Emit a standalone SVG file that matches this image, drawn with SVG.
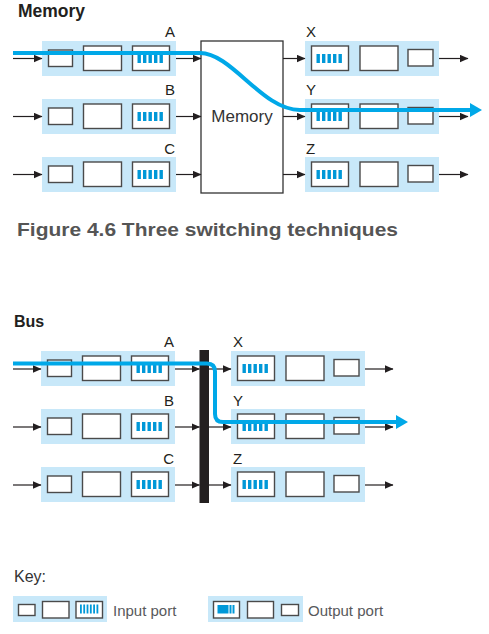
<svg xmlns="http://www.w3.org/2000/svg" xmlns:xlink="http://www.w3.org/1999/xlink" width="489" height="634" viewBox="0 0 489 634">
<style>
.bg{fill:#c8e8f9}
.box{fill:#fff;stroke:#4a4a4a;stroke-width:1.4}
.bar{fill:#0098d8}
.lbl{font-family:"Liberation Sans",Arial,sans-serif;font-size:15px;fill:#231f20}
.title{font-family:"Liberation Sans",Arial,sans-serif;font-weight:bold;fill:#231f20}
.wire{stroke:#231f20;stroke-width:1.2;fill:none;marker-end:url(#ah)}
.flow{stroke:#00a8e8;stroke-width:4;fill:none;stroke-linejoin:round}
.flowhead{fill:#00a8e8}
.keytxt{font-family:"Liberation Sans",Arial,sans-serif;font-size:15px;fill:#58595b}
</style>
<defs>
<marker id="ah" markerWidth="9" markerHeight="8" refX="8" refY="4" orient="auto" markerUnits="userSpaceOnUse">
<path d="M0,0.3 L8.5,4 L0,7.7 Z" fill="#231f20"/>
</marker>
<g id="qbars">
<rect class="bar" x="5" y="8" width="3.4" height="9"/>
<rect class="bar" x="10.5" y="8" width="3.4" height="9"/>
<rect class="bar" x="16" y="8" width="3.4" height="9"/>
<rect class="bar" x="21.5" y="8" width="3.4" height="9"/>
<rect class="bar" x="27" y="8" width="3.4" height="9"/>
</g>
<g id="inport">
<rect class="bg" x="0" y="0" width="134" height="35"/>
<rect class="box" x="6.5" y="9" width="24" height="16.5"/>
<rect class="box" x="41.5" y="5" width="38" height="24.5"/>
<rect class="box" x="90.5" y="5" width="37" height="24.5"/>
<use xlink:href="#qbars" href="#qbars" x="90.5" y="5"/>
</g>
<g id="outport">
<rect class="bg" x="0" y="0" width="134" height="35"/>
<rect class="box" x="6.5" y="5" width="37" height="24.5"/>
<use xlink:href="#qbars" href="#qbars" x="6.5" y="5"/>
<rect class="box" x="55" y="5" width="38" height="24.5"/>
<rect class="box" x="103" y="8.5" width="25" height="16.5"/>
</g>
</defs>
<rect width="489" height="634" fill="#fff"/>

<!-- Memory section -->
<text class="title" x="18" y="17" font-size="17.5">Memory</text>
<g id="mem-in-A"><use href="#inport" xlink:href="#inport" x="42" y="41"/><text class="lbl" x="175" y="37" text-anchor="end">A</text></g>
<g id="mem-in-B"><use href="#inport" xlink:href="#inport" x="42" y="99"/><text class="lbl" x="175" y="95" text-anchor="end">B</text></g>
<g id="mem-in-C"><use href="#inport" xlink:href="#inport" x="42" y="157"/><text class="lbl" x="175" y="154" text-anchor="end">C</text></g>
<g id="mem-box"><rect x="201" y="41" width="82" height="152" fill="#fff" stroke="#333" stroke-width="1.3"/><text x="242" y="122" text-anchor="middle" font-family="Liberation Sans, Arial, sans-serif" font-size="17" fill="#333">Memory</text></g>
<g id="mem-out-X"><use href="#outport" xlink:href="#outport" x="305" y="41"/><text class="lbl" x="306" y="37">X</text></g>
<g id="mem-out-Y"><use href="#outport" xlink:href="#outport" x="305" y="99"/><text class="lbl" x="306" y="95">Y</text></g>
<g id="mem-out-Z"><use href="#outport" xlink:href="#outport" x="305" y="157"/><text class="lbl" x="306" y="154">Z</text></g>

<!-- Bus section -->
<text class="title" x="14" y="327" font-size="16">Bus</text>
<g id="bus-in-A"><use href="#inport" xlink:href="#inport" x="41" y="351"/><text class="lbl" x="174" y="347" text-anchor="end">A</text></g>
<g id="bus-in-B"><use href="#inport" xlink:href="#inport" x="41" y="409"/><text class="lbl" x="174" y="406" text-anchor="end">B</text></g>
<g id="bus-in-C"><use href="#inport" xlink:href="#inport" x="41" y="467"/><text class="lbl" x="174" y="464" text-anchor="end">C</text></g>
<g id="bus-bar"><rect x="199.5" y="350" width="9.5" height="153" fill="#231f20"/></g>
<g id="bus-out-X"><use href="#outport" xlink:href="#outport" x="231" y="351"/><text class="lbl" x="233" y="347">X</text></g>
<g id="bus-out-Y"><use href="#outport" xlink:href="#outport" x="231" y="409"/><text class="lbl" x="233" y="406">Y</text></g>
<g id="bus-out-Z"><use href="#outport" xlink:href="#outport" x="231" y="467"/><text class="lbl" x="233" y="464">Z</text></g>

<!-- Caption -->
<text x="17" y="236" font-family="Liberation Sans, Arial, sans-serif" font-weight="bold" font-size="19" fill="#555" textLength="381" lengthAdjust="spacingAndGlyphs">Figure 4.6 Three switching techniques</text>

<!-- Key -->
<g id="key">
<text x="14" y="582" font-family="Liberation Sans, Arial, sans-serif" font-size="16" fill="#333">Key:</text>
<g id="key-input">
<rect class="bg" x="13" y="596" width="94" height="26"/>
<rect class="box" x="18.5" y="604.5" width="16.5" height="11"/>
<rect class="box" x="42.5" y="601.5" width="26.5" height="16.5"/>
<rect class="box" x="76" y="601.5" width="26.5" height="16.5"/>
<g class="bar"><rect x="80" y="604.5" width="1.8" height="9"/><rect x="83.3" y="604.5" width="1.8" height="9"/><rect x="86.6" y="604.5" width="1.8" height="9"/><rect x="89.9" y="604.5" width="1.8" height="9"/><rect x="93.2" y="604.5" width="1.8" height="9"/><rect x="96.5" y="604.5" width="1.8" height="9"/></g>
<text class="keytxt" x="113" y="616">Input port</text>
</g>
<g id="key-output">
<rect class="bg" x="208" y="596" width="95" height="26"/>
<rect class="box" x="213.5" y="601.5" width="26" height="16.5"/>
<rect class="bar" x="217.5" y="605" width="11" height="8.5"/>
<rect class="bar" x="229.5" y="605" width="2" height="8.5"/>
<rect class="bar" x="232.5" y="605" width="2" height="8.5"/>
<rect class="box" x="247.5" y="601.5" width="26" height="16.5"/>
<rect class="box" x="281.5" y="604.5" width="17" height="11"/>
<text class="keytxt" x="308" y="616">Output port</text>
</g>
</g>

<!-- Connectors -->
<g id="connectors">
<line class="wire" x1="13" y1="58.5" x2="42" y2="58.5"/>
<line class="wire" x1="13" y1="116.5" x2="42" y2="116.5"/>
<line class="wire" x1="13" y1="174.5" x2="42" y2="174.5"/>
<line class="wire" x1="176" y1="58.5" x2="201" y2="58.5"/>
<line class="wire" x1="176" y1="116.5" x2="201" y2="116.5"/>
<line class="wire" x1="176" y1="174.5" x2="201" y2="174.5"/>
<line class="wire" x1="283" y1="58.5" x2="305" y2="58.5"/>
<line class="wire" x1="283" y1="116.5" x2="305" y2="116.5"/>
<line class="wire" x1="283" y1="174.5" x2="305" y2="174.5"/>
<line class="wire" x1="439" y1="58.5" x2="468" y2="58.5"/>
<line class="wire" x1="439" y1="116.5" x2="468" y2="116.5"/>
<line class="wire" x1="439" y1="174.5" x2="468" y2="174.5"/>

<line class="wire" x1="13" y1="369" x2="41" y2="369"/>
<line class="wire" x1="13" y1="427" x2="41" y2="427"/>
<line class="wire" x1="13" y1="485" x2="41" y2="485"/>
<line class="wire" x1="175" y1="369" x2="199.5" y2="369"/>
<line class="wire" x1="175" y1="427" x2="199.5" y2="427"/>
<line class="wire" x1="175" y1="485" x2="199.5" y2="485"/>
<line class="wire" x1="209" y1="369" x2="231" y2="369"/>
<line class="wire" x1="209" y1="427" x2="231" y2="427"/>
<line class="wire" x1="209" y1="485" x2="231" y2="485"/>
<line class="wire" x1="365" y1="369" x2="393" y2="369"/>
<line class="wire" x1="365" y1="427" x2="393" y2="427"/>
<line class="wire" x1="365" y1="485" x2="393" y2="485"/>

<path class="flow" d="M13,53 H200 C232,53 262,110 300,110 H472"/>
<path class="flowhead" d="M470,103 L482,110 L470,117 Z"/>
<path class="flow" d="M13,363.5 H207 Q215,363.5 215,371.5 V414 Q215,422 223,422 H398"/>
<path class="flowhead" d="M396,415 L408,422 L396,429 Z"/>
</g>
</svg>
